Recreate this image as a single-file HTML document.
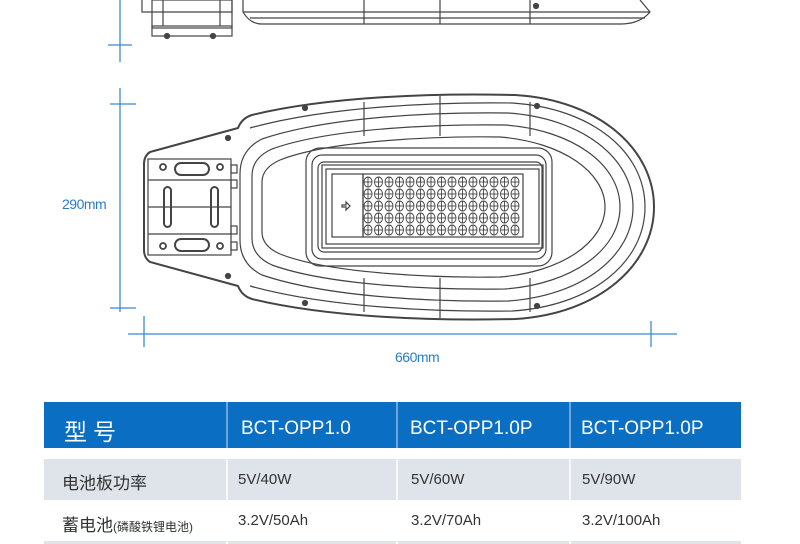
<!DOCTYPE html>
<html><head><meta charset="utf-8"><style>
body{margin:0;width:800px;height:544px;background:#fff;overflow:hidden;position:relative;font-family:"Liberation Sans","Noto Sans CJK SC",sans-serif}
svg{position:absolute;left:0;top:0}
.t{position:absolute;white-space:nowrap}
</style></head><body>
<svg width="800" height="544" viewBox="0 0 800 544">
<g stroke="#3b8ad0" stroke-width="1.3" fill="none">
<line x1="120" y1="0" x2="120" y2="62"/><line x1="108" y1="45" x2="132" y2="45"/>
<line x1="120" y1="88" x2="120" y2="312"/><line x1="110" y1="104" x2="136" y2="104"/><line x1="110" y1="308" x2="136" y2="308"/>
<line x1="128" y1="334" x2="677" y2="334"/><line x1="144" y1="316" x2="144" y2="347"/><line x1="651" y1="321" x2="651" y2="347"/>
</g>
<g stroke="#444" stroke-width="1.2" fill="none">
<!-- side view -->
<rect x="152" y="0" width="80" height="28"/><rect x="152" y="26" width="80" height="10"/>
<line x1="163" y1="0" x2="163" y2="26"/><line x1="220" y1="0" x2="220" y2="26"/>
<circle cx="167" cy="36" r="2.5" fill="#444"/><circle cx="213" cy="36" r="2.5" fill="#444"/>
<path d="M142 0 V12 H232 V0"/>
<path d="M243 0 V12 Q250 24 262 24 H620 Q640 24 650 12 L640 0"/>
<line x1="243" y1="12" x2="650" y2="12"/><line x1="250" y1="18" x2="645" y2="18"/>
<line x1="364" y1="0" x2="364" y2="24"/><line x1="440" y1="0" x2="440" y2="24"/><line x1="530" y1="0" x2="530" y2="24"/>
<circle cx="536" cy="6" r="2.5" fill="#444"/>
<!-- top view outline -->
<path d="M150 152 L238 128 Q242 118 252 115 C330 96 440 93 515 95 C600 100 654 150 654 207 C654 264 600 314 515 319 C440 321 330 318 252 299 Q242 296 238 286 L150 262 Q144 258 144 250 V164 Q144 156 150 152 Z" stroke-width="2"/>
<path d="M250 128 C330 106 440 102 512 103 C592 108 645 152 645 207 C645 262 592 306 512 311 C440 312 330 308 250 286"/>
<path d="M262 139 C330 116 440 112 508 113 C582 118 633 158 633 207 C633 256 582 296 508 301 C440 302 330 298 262 275 Q240 264 240 240 V174 Q240 150 262 139Z"/>
<path d="M272 149 C330 128 440 124 505 125 C572 130 620 164 620 207 C620 250 572 284 505 289 C440 290 330 286 272 265 Q252 256 252 238 V176 Q252 158 272 149Z"/>
<path d="M280 160 C330 140 440 136 500 137 C562 142 605 172 605 207 C605 242 562 272 500 277 C440 278 330 274 280 254 Q262 246 262 232 V182 Q262 168 280 160Z"/>
<line x1="364" y1="102" x2="364" y2="136"/><line x1="440" y1="96" x2="440" y2="136"/><line x1="530" y1="102" x2="530" y2="136"/>
<line x1="364" y1="278" x2="364" y2="312"/><line x1="440" y1="278" x2="440" y2="318"/><line x1="530" y1="278" x2="530" y2="312"/>
<circle cx="305" cy="108" r="2.5" fill="#444"/><circle cx="305" cy="303" r="2.5" fill="#444"/>
<circle cx="537" cy="106" r="2.5" fill="#444"/><circle cx="537" cy="306" r="2.5" fill="#444"/>
<circle cx="228" cy="138" r="2.5" fill="#444"/><circle cx="228" cy="276" r="2.5" fill="#444"/>
<!-- bracket -->
<rect x="148" y="159" width="83" height="96"/>
<line x1="148" y1="180" x2="231" y2="180"/><line x1="148" y1="234" x2="231" y2="234"/><line x1="148" y1="207" x2="231" y2="207"/>
<rect x="175" y="163" width="34" height="12" rx="6" stroke-width="2"/><rect x="175" y="239" width="34" height="12" rx="6" stroke-width="2"/>
<rect x="164" y="187" width="7" height="40" rx="3.5" stroke-width="2"/><rect x="211" y="187" width="7" height="40" rx="3.5" stroke-width="2"/>
<circle cx="163" cy="167" r="3" stroke-width="1.8"/><circle cx="220" cy="167" r="3" stroke-width="1.8"/><circle cx="163" cy="246" r="3" stroke-width="1.8"/><circle cx="220" cy="246" r="3" stroke-width="1.8"/>
<rect x="231" y="165" width="6" height="8"/><rect x="231" y="180" width="6" height="8"/><rect x="231" y="226" width="6" height="8"/><rect x="231" y="242" width="6" height="8"/>
<!-- LED module -->
<rect x="306" y="148" width="246" height="118" rx="14"/>
<rect x="312" y="155" width="234" height="104" rx="10"/>
<rect x="318" y="162" width="224" height="90" rx="6"/>
<rect x="322" y="165" width="221" height="83"/>
<rect x="326" y="169" width="213" height="75"/>
<rect x="332" y="174" width="31" height="63"/>
<path d="M342 205 h4 v-3 l4 4 l-4 4 v-3 h-4z"/>
<rect x="363" y="174" width="160" height="63"/>
</g>
<g stroke="#444" stroke-width="0.9" fill="none" id="leds"></g>
<!-- table -->
<rect x="44" y="402" width="697" height="46" fill="#0a6fc3"/>
<g stroke="#8fb8e2" stroke-width="1.5"><line x1="227" y1="402" x2="227" y2="448"/><line x1="397" y1="402" x2="397" y2="448"/><line x1="570" y1="402" x2="570" y2="448"/></g>
<rect x="44" y="459" width="697" height="41" fill="#dfe3ea"/>
<rect x="44" y="541" width="697" height="3" fill="#dfe3ea"/>
<g stroke="#fff" stroke-width="1.5"><line x1="227" y1="459" x2="227" y2="544"/><line x1="397" y1="459" x2="397" y2="544"/><line x1="570" y1="459" x2="570" y2="544"/></g>
</svg>
<script>
var g=document.getElementById('leds'),s='';
for(var c=0;c<15;c++)for(var r=0;r<5;r++){var x=368+c*10.5,y=182+r*12;s+='<ellipse cx="'+x+'" cy="'+y+'" rx="4" ry="5"/><line x1="'+(x-4)+'" y1="'+y+'" x2="'+(x+4)+'" y2="'+y+'"/><line x1="'+x+'" y1="'+(y-5)+'" x2="'+x+'" y2="'+(y+5)+'"/>';}
g.innerHTML=s;
</script>
<div class="t" style="left:395px;top:349px;font-size:14px;color:#2a7cc7;letter-spacing:-0.5px">660mm</div>
<div class="t" style="left:62px;top:196px;font-size:14px;color:#2a7cc7;letter-spacing:-0.5px">290mm</div>
<div class="t" style="left:64px;top:413px;font-size:23px;color:#fff;letter-spacing:6px">型号</div>
<div class="t" style="left:241px;top:418px;font-size:19px;color:#fff">BCT-OPP1.0</div>
<div class="t" style="left:410px;top:418px;font-size:19px;color:#fff">BCT-OPP1.0P</div>
<div class="t" style="left:581px;top:418px;font-size:19px;color:#fff">BCT-OPP1.0P</div>
<div class="t" style="left:62px;top:469px;font-size:17px;color:#333">电池板功率</div>
<div class="t" style="left:238px;top:471px;font-size:15px;color:#333">5V/40W</div>
<div class="t" style="left:411px;top:471px;font-size:15px;color:#333">5V/60W</div>
<div class="t" style="left:582px;top:471px;font-size:15px;color:#333">5V/90W</div>
<div class="t" style="left:62px;top:511px;font-size:17px;color:#333">蓄电池<span style="font-size:12px">(磷酸铁锂电池)</span></div>
<div class="t" style="left:238px;top:512px;font-size:15px;color:#333">3.2V/50Ah</div>
<div class="t" style="left:411px;top:512px;font-size:15px;color:#333">3.2V/70Ah</div>
<div class="t" style="left:582px;top:512px;font-size:15px;color:#333">3.2V/100Ah</div>
</body></html>
